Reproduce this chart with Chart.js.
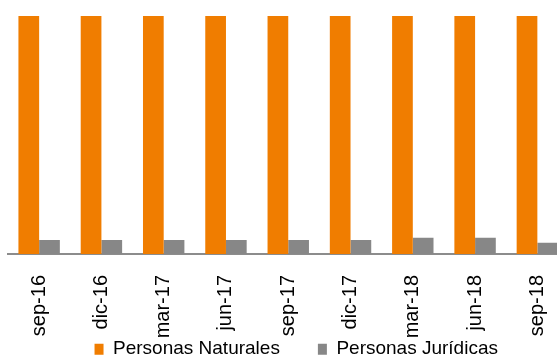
<!DOCTYPE html>
<html>
<head>
<meta charset="utf-8">
<script src="https://cdn.jsdelivr.net/npm/chart.js@4"></script>
<style>
  html, body { margin: 0; padding: 0; background: #fff; overflow: hidden; }
  #wrap { width: 557px; height: 358px; overflow: hidden; }
  #chart { display: block; }
</style>
</head>
<body>
<!-- canvas is a bit wider than the window: the last group is cut off at the right edge in the original -->
<div id="wrap"><canvas id="chart" width="570" height="358"></canvas></div>
<script>
// Quarters shown on the x axis
const periods = ['sep-16', 'dic-16', 'mar-17', 'jun-17', 'sep-17', 'dic-17', 'mar-18', 'jun-18', 'sep-18'];

// Share of each group (%); the orange bars run past the top of the plot
const naturales = [94.7, 94.7, 94.7, 94.7, 94.7, 94.7, 93.9, 93.9, 95.7];
const juridicas = [5.3, 5.3, 5.3, 5.3, 5.3, 5.3, 6.1, 6.1, 4.3];

const seriesNames = ['Personas Naturales', 'Personas Jurídicas'];

const Y_MAX = 90;

const COLORS = {
  orange: '#F07D00',
  gray: '#878787',
  axis: '#8C8C8C',
  text: '#000000',
};

const FONT = "'Liberation Sans', Arial, sans-serif";

const LEGEND_HEIGHT = 18.25;
const X_AXIS_HEIGHT = 85.75;

// fixed legend height and a small horizontal nudge, like the original
const legendTweak = {
  id: 'legendTweak',
  afterInit(chart) {
    const legend = chart.legend;
    const fit = legend.fit.bind(legend);
    legend.fit = function () {
      fit();
      this.height = LEGEND_HEIGHT;
    };
  },
  afterLayout(chart) {
    chart.legend.left += 8;
    chart.legend.right += 8;
  },
};

new Chart(document.getElementById('chart'), {
  type: 'bar',
  data: {
    labels: periods,
    datasets: [
      {
        label: seriesNames[0],
        data: naturales,
        backgroundColor: COLORS.orange,
        borderWidth: 0,
      },
      {
        label: seriesNames[1],
        data: juridicas,
        backgroundColor: COLORS.gray,
        borderWidth: 0,
      },
    ],
  },
  plugins: [legendTweak],
  options: {
    responsive: false,
    animation: false,
    layout: { autoPadding: false, padding: { left: 8, right: 1.5, top: 16, bottom: 0 } },
    datasets: {
      bar: { categoryPercentage: 0.665, barPercentage: 1 },
    },
    plugins: {
      legend: {
        position: 'bottom',
        labels: {
          boxWidth: 9,
          boxHeight: 11,
          padding: 0,
          color: COLORS.text,
          font: { family: FONT, size: 19 },
          generateLabels(chart) {
            // keep the default items, only widen the gap after the first one
            const items = Chart.defaults.plugins.legend.labels.generateLabels(chart);
            items.forEach((item, i) => {
              if (i < items.length - 1) item.text += '\u2003\u2003';
            });
            return items;
          },
        },
      },
      tooltip: { enabled: false },
    },
    scales: {
      x: {
        grid: { display: false, drawTicks: false },
        border: { display: true, color: COLORS.axis, width: 2 },
        ticks: {
          color: COLORS.text,
          font: { family: FONT, size: 20 },
          minRotation: 90,
          maxRotation: 90,
          padding: 21,
          autoSkip: false,
        },
        afterFit(scale) {
          scale.height = X_AXIS_HEIGHT;
          // don't let the rotated labels pull the plot in from the sides
          scale.paddingLeft = 0;
          scale.paddingRight = 0;
        },
      },
      y: {
        display: false,
        min: 0,
        max: Y_MAX,
      },
    },
  },
});
</script>
</body>
</html>
